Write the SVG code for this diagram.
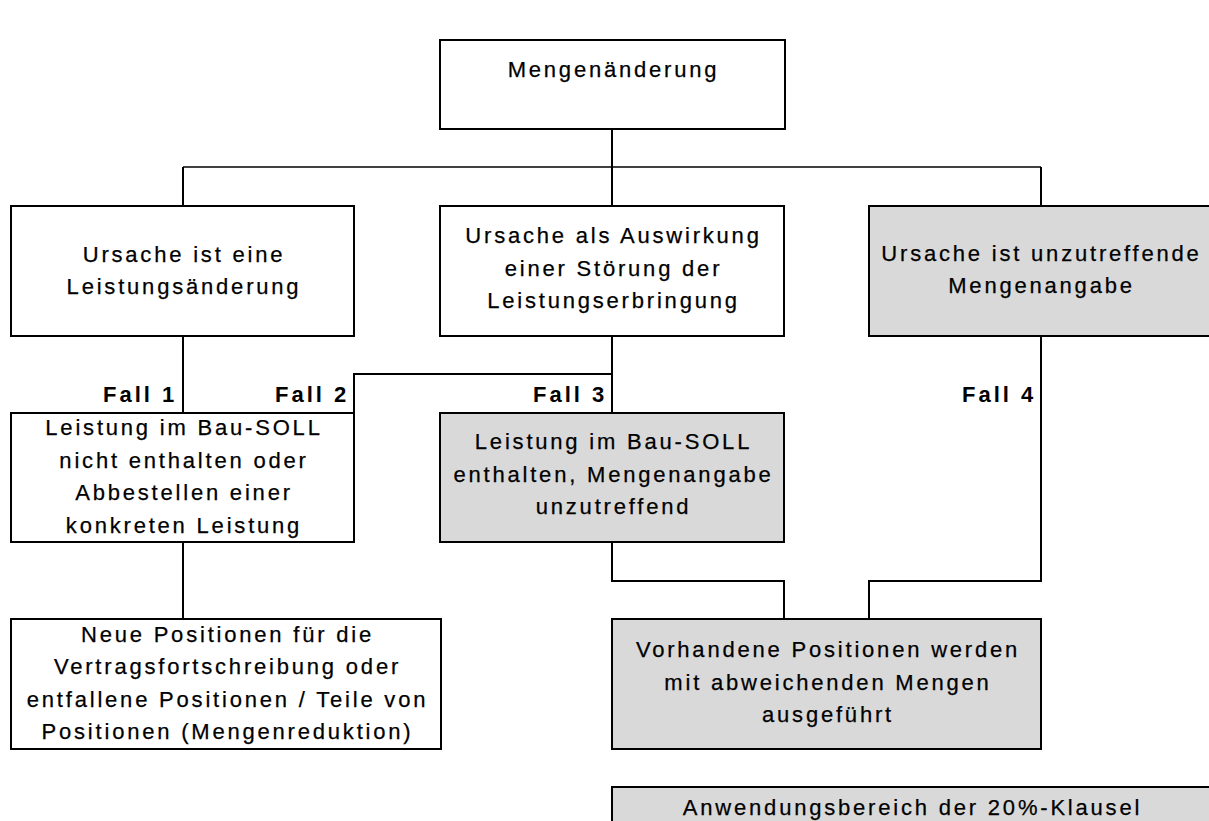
<svg xmlns="http://www.w3.org/2000/svg" width="1209" height="821" viewBox="0 0 1209 821">
<style>
.box{fill:#ffffff;stroke:#000;stroke-width:2}
.gray{fill:#d9d9d9;stroke:#000;stroke-width:2}
.t{font-family:"Liberation Sans",Arial,Helvetica,sans-serif;font-size:22px;letter-spacing:2.8px;fill:#000;stroke:#000;stroke-width:0.25;text-anchor:middle}
.f{font-family:"Liberation Sans",Arial,Helvetica,sans-serif;font-size:22px;font-weight:bold;letter-spacing:3px;fill:#000}
.c{fill:none;stroke:#000;stroke-width:2}
.thin{fill:none;stroke:#000;stroke-width:1.3}
</style>
<rect width="1209" height="821" fill="#fff"/>
<g id="connectors">
<line class="c" x1="612" y1="129" x2="612" y2="206"/>
<line class="thin" x1="183" y1="167" x2="1041" y2="167"/>
<line class="c" x1="183" y1="167" x2="183" y2="206"/>
<line class="c" x1="1041" y1="167" x2="1041" y2="206"/>
<line class="c" x1="183" y1="336" x2="183" y2="413"/>
<line class="c" x1="612" y1="336" x2="612" y2="413"/>
<polyline class="c" points="612,374 354,374 354,413"/>
<polyline class="c" points="1041,336 1041,581 869,581 869,619"/>
<polyline class="c" points="612,542 612,581 784,581 784,619"/>
<line class="c" x1="183" y1="542" x2="183" y2="619"/>
</g>
<g id="labels">
<text class="f" x="103" y="402">Fall 1</text>
<text class="f" x="275" y="402">Fall 2</text>
<text class="f" x="533" y="402">Fall 3</text>
<text class="f" x="962" y="402">Fall 4</text>
</g>
<g id="n-top">
<rect class="box" x="440" y="40" width="345" height="89"/>
<text class="t" x="613.5" y="77">Mengenänderung</text>
</g>
<g id="n-leistungsaenderung">
<rect class="box" x="11" y="206" width="343" height="130"/>
<text class="t" x="184" y="262">Ursache ist eine</text>
<text class="t" x="184" y="294">Leistungsänderung</text>
</g>
<g id="n-stoerung">
<rect class="box" x="440" y="206" width="344" height="130"/>
<text class="t" x="613.5" y="243">Ursache als Auswirkung</text>
<text class="t" x="613.5" y="275.5">einer Störung der</text>
<text class="t" x="613.5" y="308">Leistungserbringung</text>
</g>
<g id="n-mengenangabe">
<rect class="gray" x="869" y="206" width="343" height="130"/>
<text class="t" x="1041.5" y="261">Ursache ist unzutreffende</text>
<text class="t" x="1041.5" y="293">Mengenangabe</text>
</g>
<g id="n-nicht-enthalten">
<rect class="box" x="11" y="413" width="343" height="129"/>
<text class="t" x="184" y="435">Leistung im Bau-SOLL</text>
<text class="t" x="184" y="468">nicht enthalten oder</text>
<text class="t" x="184" y="500">Abbestellen einer</text>
<text class="t" x="184" y="533">konkreten Leistung</text>
</g>
<g id="n-enthalten">
<rect class="gray" x="440" y="413" width="344" height="129"/>
<text class="t" x="613.5" y="449">Leistung im Bau-SOLL</text>
<text class="t" x="613.5" y="482">enthalten, Mengenangabe</text>
<text class="t" x="613.5" y="514">unzutreffend</text>
</g>
<g id="n-neue-positionen">
<rect class="box" x="11" y="619" width="430" height="130"/>
<text class="t" x="227.5" y="642">Neue Positionen für die</text>
<text class="t" x="227.5" y="674">Vertragsfortschreibung oder</text>
<text class="t" x="227.5" y="707">entfallene Positionen / Teile von</text>
<text class="t" x="227.5" y="739">Positionen (Mengenreduktion)</text>
</g>
<g id="n-vorhandene">
<rect class="gray" x="612" y="619" width="429" height="130"/>
<text class="t" x="828" y="657">Vorhandene Positionen werden</text>
<text class="t" x="828" y="689.5">mit abweichenden Mengen</text>
<text class="t" x="828" y="722">ausgeführt</text>
</g>
<g id="n-anwendungsbereich">
<rect class="gray" x="612" y="787" width="600" height="50"/>
<text class="t" x="912.5" y="815">Anwendungsbereich der 20%-Klausel</text>
</g>
</svg>
